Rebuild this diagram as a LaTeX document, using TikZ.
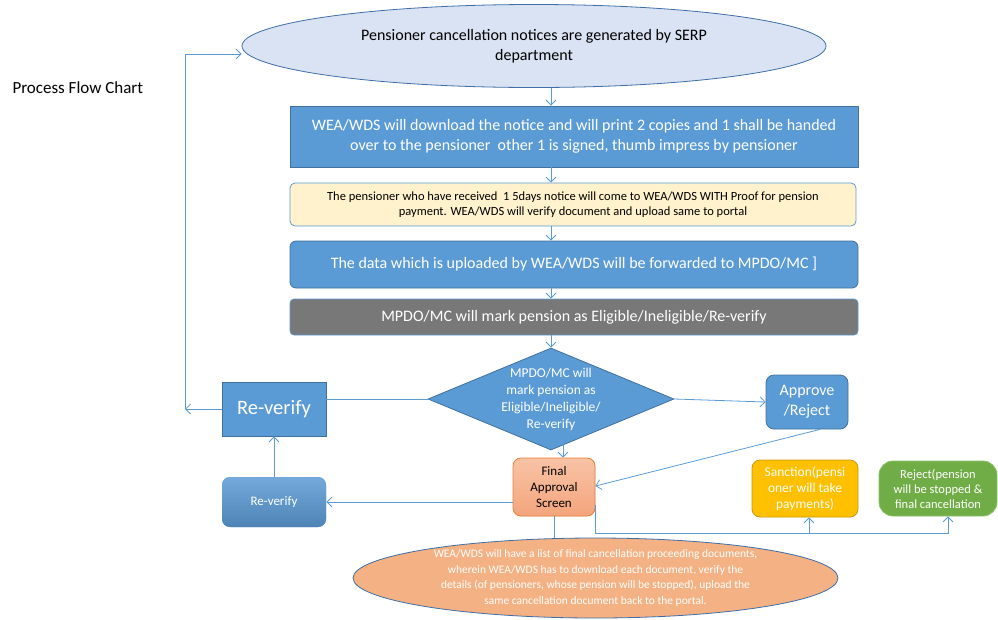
\documentclass[tikz,border=0pt]{standalone}
\usepackage{fontspec}
\setmainfont{Carlito}
\usetikzlibrary{shapes.geometric,arrows.meta}
\definecolor{lineblue}{HTML}{5B9BD5}
\definecolor{boxblue}{HTML}{5B9BD5}
\definecolor{boxedge}{HTML}{41719C}
\definecolor{ellfill}{HTML}{DAE3F3}
\definecolor{elledge}{HTML}{3E6DA8}
\definecolor{notefill}{HTML}{FFF2CC}
\definecolor{markgray}{HTML}{787878}
\definecolor{finaltop}{HTML}{F8C3A6}
\definecolor{finalbot}{HTML}{F4A57C}
\definecolor{finaledge}{HTML}{ED7D31}
\definecolor{sancfill}{HTML}{FFC000}
\definecolor{sancedge}{HTML}{C9980A}
\definecolor{rejfill}{HTML}{70AD47}
\definecolor{rejedge}{HTML}{8CC26A}
\definecolor{endfill}{HTML}{F4B183}
\tikzset{
  line/.style={draw=lineblue, line width=0.8pt},
  arr/.style={line, -{Straight Barb[length=5pt,width=10pt]}},
  box/.style={draw=boxedge, fill=boxblue, text=white, align=center, inner sep=0pt, line width=0.8pt}
}
\begin{document}
\begin{tikzpicture}[x=1pt,y=-1pt]
\useasboundingbox (0,0) rectangle (998,619);
\node[anchor=west, font=\fontsize{17}{20}\selectfont] (title) at (9,88) {Process Flow Chart};
\node[ellipse, draw=elledge, fill=ellfill, line width=0.8pt, minimum width=584pt, minimum height=83pt, inner sep=0pt, align=center, font=\fontsize{16}{20}\selectfont] (sn) at (534,46) {Pensioner cancellation notices are generated by SERP\\department};
\node[box, minimum width=568pt, minimum height=61pt, font=\fontsize{16}{20}\selectfont] (dl) at (574,136.5) {WEA/WDS will download the notice and will print 2 copies and 1 shall be handed\\over to the pensioner\ \ other 1 is signed, thumb impress by pensioner};
\node[box, rounded corners=5pt, fill=notefill, draw=lineblue, text=black, minimum width=566pt, minimum height=43pt, font=\fontsize{12.5}{15}\selectfont] (pc) at (573,204.5) {The pensioner who have received\ \ 1 5days notice will come to WEA/WDS WITH Proof for pension\\payment. WEA/WDS will verify document and upload same to portal};
\node[box, rounded corners=6pt, minimum width=568pt, minimum height=47pt, font=\fontsize{16}{18}\selectfont] (fw) at (574,264.5) {The data which is uploaded by WEA/WDS will be forwarded to MPDO/MC ]};
\node[box, rounded corners=4pt, fill=markgray, draw=lineblue, minimum width=568pt, minimum height=36pt, font=\fontsize{16}{18}\selectfont] (mk) at (574,317) {MPDO/MC will mark pension as Eligible/Ineligible/Re-verify};
\node[diamond, draw=boxedge, fill=boxblue, line width=0.8pt, minimum width=246pt, minimum height=102pt, inner sep=0pt, label={[text=white, align=center, font=\fontsize{13.5}{17}\selectfont]center:{MPDO/MC will\\mark pension as\\Eligible/Ineligible/\\Re-verify}}] (dc) at (551,399) {};
\node[box, minimum width=104pt, minimum height=54pt, font=\fontsize{20.5}{22}\selectfont] (rv) at (274,409) {Re-verify};
\node[box, rounded corners=8pt, minimum width=82pt, minimum height=54pt, font=\fontsize{16}{20}\selectfont] (ap) at (807,402) {Approve\\/Reject};
\node[box, rounded corners=8pt, draw=finaledge, top color=finaltop, bottom color=finalbot, text=black, minimum width=82pt, minimum height=58pt, font=\fontsize{13}{16}\selectfont] (fin) at (554,487) {Final\\Approval\\Screen};
\node[box, rounded corners=8pt, draw=none, top color=boxblue!85!white, bottom color=boxblue!85!black, minimum width=104pt, minimum height=50pt, font=\fontsize{13}{15}\selectfont] (rs) at (274,502) {Re-verify};
\node[box, rounded corners=8pt, draw=sancedge, fill=sancfill, minimum width=106pt, minimum height=57pt, font=\fontsize{13.5}{16}\selectfont] (san) at (805,488.5) {Sanction(pensi\\oner will take\\payments)};
\node[box, rounded corners=14pt, draw=rejedge, fill=rejfill, minimum width=118pt, minimum height=55pt, font=\fontsize{12.5}{15}\selectfont] (rej) at (938,488.5) {Reject(pension\\will be stopped \&\\final cancellation};
\node[ellipse, draw=elledge, fill=endfill, line width=0.8pt, minimum width=485pt, minimum height=80pt, inner sep=0pt, align=center, text=white, font=\fontsize{11.5}{15.5}\selectfont] (ce) at (595.5,578) {WEA/WDS will have a list of final cancellation proceeding documents,\\wherein WEA/WDS has to download each document, verify the\\details (of pensioners, whose pension will be stopped), upload the\\same cancellation document back to the portal.};
\coordinate (back) at (185,409);
\coordinate (fork) at (809,533);
\draw[arr] (sn.south -| 551,0) -- (dl.north -| 551,0);
\draw[arr] (dl.south -| 551,0) -- (pc.north -| 551,0);
\draw[arr] (pc.south -| 551,0) -- (fw.north -| 551,0);
\draw[arr] (fw.south -| 551,0) -- (mk.north -| 551,0);
\draw[arr] (mk.south -| 551,0) -- (dc.north);
\draw[line] (dc.west) -- (rv.east |- dc.west);
\draw[arr] (rv.west) -- (back);
\draw[arr] (back) |- ([yshift=-8pt]sn.west);
\draw[arr] (dc.east) -- (ap.west);
\draw[arr] ([xshift=13pt]ap.south) -- ([yshift=1pt]fin.east);
\draw[arr] ([xshift=9pt,yshift=15pt]fin.north) -- ([xshift=9pt]fin.north);
\draw[arr] (fin.west |- rs.east) -- (rs.east);
\draw[arr] (rs.north) -- (rv.south);
\draw[line] (fin.south) -- (fin.south |- ce.north);
\draw[line] ([yshift=-18pt]fin.east) |- (fork);
\draw[arr] (fork) -- (fork |- san.south);
\draw[arr] (fork) -| ([xshift=10pt]rej.south);
\end{tikzpicture}
\end{document}
